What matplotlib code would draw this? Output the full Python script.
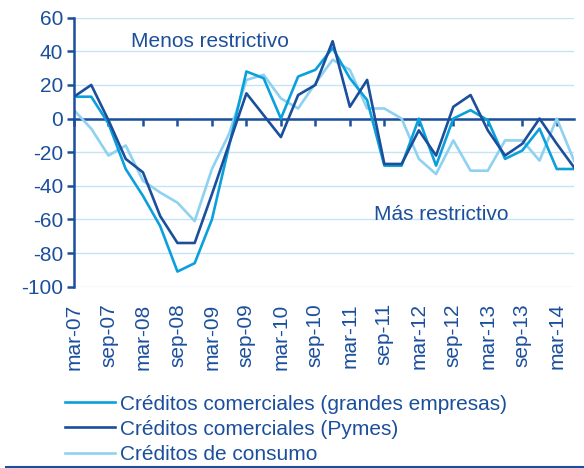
import numpy as np
import matplotlib
matplotlib.use('Agg')
import matplotlib.pyplot as plt
from matplotlib.lines import Line2D

plt.rcParams['font.family'] = ['Liberation Sans', 'DejaVu Sans']
plt.rcParams['axes.unicode_minus'] = False

# quarterly, mar-07 .. jun-14
quarters = ['mar-07', 'jun-07', 'sep-07', 'dic-07', 'mar-08', 'jun-08', 'sep-08', 'dic-08',
            'mar-09', 'jun-09', 'sep-09', 'dic-09', 'mar-10', 'jun-10', 'sep-10', 'dic-10',
            'mar-11', 'jun-11', 'sep-11', 'dic-11', 'mar-12', 'jun-12', 'sep-12', 'dic-12',
            'mar-13', 'jun-13', 'sep-13', 'dic-13', 'mar-14', 'jun-14']

grandes = [13, 13, -3, -30, -46, -64, -91, -86, -60, -16, 28, 24, 0, 25, 29, 42,
           24, 11, -28, -28, 0, -28, 0, 5, -1, -24, -19, -6, -30, -30]
pymes = [13, 20, -1, -24, -32, -58, -74, -74, -45, -15, 15, 2, -11, 14, 20, 46,
         7, 23, -27, -27, -7, -22, 7, 14, -7, -22, -15, 0, -15, -29]
consumo = [5, -6, -22, -16, -37, -44, -50, -61, -30, -9, 23, 26, 12, 6, 21, 35,
           29, 6, 6, 0, -24, -33, -13, -31, -31, -13, -13, -25, 0, -25]

labels = ['Créditos comerciales (grandes empresas)',
          'Créditos comerciales (Pymes)',
          'Créditos de consumo']

dark = '#1B4F9C'
mid = '#0AA0DC'
light = '#8FD1F0'
grid_c = '#C3E5F6'
fs = 15

x = np.arange(len(quarters))

fig = plt.figure(figsize=(5.84, 4.68), dpi=100)
ax = fig.add_axes([0.1267, 0.3874, 0.8562, 0.5748])

ax.plot(x, grandes, color=mid, linewidth=1.9, label=labels[0], zorder=3)
ax.plot(x, pymes, color=dark, linewidth=1.9, label=labels[1], zorder=4)
ax.plot(x, consumo, color=light, linewidth=1.9, label=labels[2], zorder=2)

ax.set_xlim(0, len(quarters) - 1)
ax.set_ylim(-100, 60)
ax.set_yticks(np.arange(-100, 61, 20))
ax.yaxis.grid(True, color=grid_c, linewidth=1.0)
ax.set_axisbelow(True)

for s in ['top', 'right']:
    ax.spines[s].set_visible(False)
ax.spines['left'].set_color(dark)
ax.spines['left'].set_linewidth(1.8)
ax.spines['bottom'].set_position(('data', 0))
ax.spines['bottom'].set_color(dark)
ax.spines['bottom'].set_linewidth(1.8)
ax.spines['bottom'].set_zorder(1)

ax.tick_params(axis='y', colors=dark, labelcolor=dark, labelsize=fs,
               length=5, width=1.8, direction='out', pad=3)
ax.set_xticks(x[::2])
ax.tick_params(axis='x', colors=dark, length=5, width=1.8,
               direction='out', labelbottom=False)

sec = ax.secondary_xaxis(0.0)
sec.set_xticks(x[::2])
sec.set_xticklabels(quarters[::2], rotation=90)
sec.tick_params(length=0, pad=12, labelsize=fs, labelcolor=dark)
sec.spines['bottom'].set_visible(False)

ax.text(7.9, 46, 'Menos restrictivo', color=dark, fontsize=fs,
        ha='center', va='center')
ax.text(21.3, -57, 'Más restrictivo', color=dark, fontsize=fs,
        ha='center', va='center')

handles = [Line2D([], [], color=mid, linewidth=1.9),
           Line2D([], [], color=dark, linewidth=1.9),
           Line2D([], [], color=light, linewidth=1.9)]
fig.legend(handles, labels, loc='upper left', bbox_to_anchor=(0.111, 0.157),
           frameon=False, fontsize=fs, labelcolor=dark, handlelength=2.4,
           handletextpad=0.25, labelspacing=0.3, borderaxespad=0, borderpad=0)

fig.add_artist(Line2D([0.01, 1.0], [0.003, 0.003], transform=fig.transFigure,
                      color=dark, linewidth=1.5))

fig.savefig('out.png', dpi=100)
